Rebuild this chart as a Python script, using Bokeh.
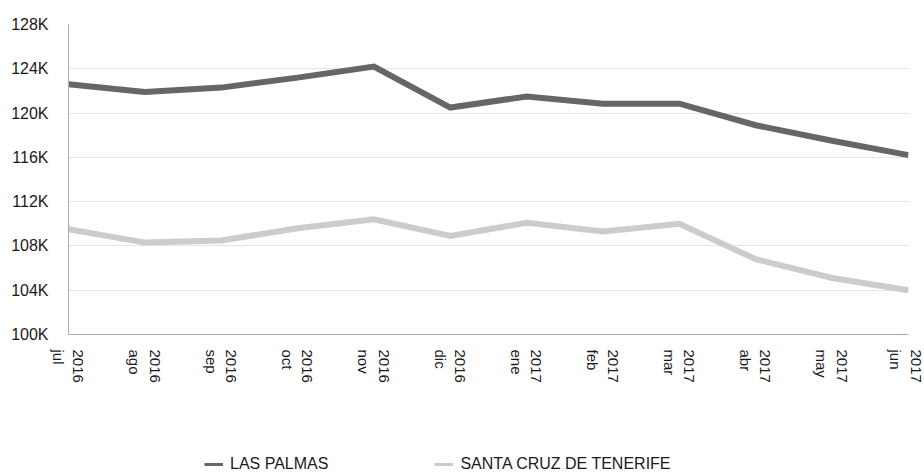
import math
from bokeh.plotting import figure
from bokeh.layouts import column
from bokeh.models import Range1d, FixedTicker, Legend, LegendItem
from bokeh.embed import file_html
from bokeh.resources import INLINE

# ---- data ----
months = ["jul", "ago", "sep", "oct", "nov", "dic", "ene", "feb", "mar", "abr", "may", "jun"]
years = ["2016", "2016", "2016", "2016", "2016", "2016", "2017", "2017", "2017", "2017", "2017", "2017"]
las_palmas = [122600, 121900, 122300, 123200, 124200, 120500, 121500, 120850, 120850, 118900, 117500, 116200]
santa_cruz = [109500, 108300, 108500, 109600, 110400, 108900, 110100, 109300, 110000, 106800, 105100, 104000]
y_ticks = [100000, 104000, 108000, 112000, 116000, 120000, 124000, 128000]
y_tick_labels = ["100K", "104K", "108K", "112K", "116K", "120K", "124K", "128K"]
series_names = ["LAS PALMAS", "SANTA CRUZ DE TENERIFE"]
series_colors = ["#666666", "#cccccc"]

x = list(range(len(months)))

p = figure(width=924, height=440, output_backend="svg", toolbar_location=None,
           x_range=Range1d(0, len(months) - 1), y_range=Range1d(y_ticks[0], y_ticks[-1]),
           min_border_left=68, min_border_right=16, min_border_top=24, min_border_bottom=106)
p.outline_line_color = None
p.background_fill_color = "white"
p.border_fill_color = "white"

p.line(x, las_palmas, line_color=series_colors[0], line_width=6, line_join="miter")
p.line(x, santa_cruz, line_color=series_colors[1], line_width=6, line_join="miter")

# axes
p.xaxis.ticker = FixedTicker(ticks=x)
p.xaxis.major_label_overrides = {i: f"{years[i]}\n{months[i]}" for i in x}
p.xaxis.major_label_orientation = -math.pi / 2
p.yaxis.ticker = FixedTicker(ticks=y_ticks)
p.yaxis.major_label_overrides = {t: l for t, l in zip(y_ticks, y_tick_labels)}

for ax in (p.xaxis[0], p.yaxis[0]):
    ax.axis_line_color = "#a8a8cc"
    ax.axis_line_width = 1
    ax.major_tick_line_color = None
    ax.minor_tick_line_color = None
    ax.major_label_text_font = "Liberation Sans"
    ax.major_label_text_color = "#1a1a1a"

p.yaxis.major_label_text_font_size = "16px"
p.yaxis.major_label_standoff = 14
p.xaxis.major_label_text_font_size = "15px"
p.xaxis.major_label_standoff = 9

p.xgrid.grid_line_color = None
p.ygrid.grid_line_color = "#e4e4ee"
p.ygrid.grid_line_width = 1

# ---- legend strip below the chart (its frame is aligned with the chart's frame) ----
lg = figure(width=924, height=34, output_backend="svg", toolbar_location=None,
            x_range=Range1d(0, 1), y_range=Range1d(0, 1),
            min_border_left=0, min_border_right=0, min_border_top=0, min_border_bottom=0)
lg.axis.visible = False
lg.grid.visible = False
lg.outline_line_color = None
lg.background_fill_color = "white"
lg.border_fill_color = "white"
# swatch renderers: data placed outside the visible range, used only by the legend
s1 = lg.line([-5, -4], [-5, -5], line_color=series_colors[0], line_width=3)
s2 = lg.line([-5, -4], [-5, -5], line_color=series_colors[1], line_width=3)

legend = Legend(items=[LegendItem(label=series_names[0], renderers=[s1]),
                       LegendItem(label=series_names[1], renderers=[s2])],
                location=(136, 1), orientation="horizontal")
legend.border_line_color = None
legend.background_fill_alpha = 0
legend.padding = 0
legend.margin = 0
legend.glyph_width = 19
legend.glyph_height = 16
legend.label_standoff = 7
legend.label_height = 16
legend.spacing = 106
legend.label_text_font = "Liberation Sans"
legend.label_text_font_size = "16px"
legend.label_text_color = "#1a1a1a"
lg.add_layout(legend, "center")

layout = column(p, lg, spacing=0)
open("out.html", "w").write(file_html(layout, INLINE))
